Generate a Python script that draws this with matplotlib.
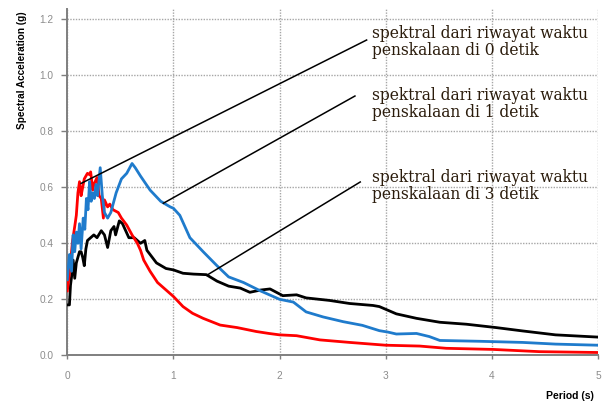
import matplotlib
matplotlib.use("Agg")
import matplotlib.pyplot as plt

# ---- data ----
period_red = [0, 0.01, 0.03, 0.05, 0.07, 0.085, 0.10, 0.115, 0.13, 0.145, 0.16, 0.19, 0.21, 0.22,
              0.24, 0.25, 0.28, 0.30, 0.32, 0.34, 0.35, 0.38, 0.40, 0.43, 0.48, 0.51, 0.56, 0.61,
              0.66, 0.69, 0.72, 0.78, 0.85, 0.94, 1.00, 1.09, 1.18, 1.28, 1.44, 1.6, 1.78, 1.9,
              2.0, 2.16, 2.38, 2.66, 3.0, 3.32, 3.57, 4.01, 4.45, 5.0]
sa_red = [0.23, 0.26, 0.33, 0.41, 0.46, 0.50, 0.58, 0.62, 0.57, 0.60, 0.63, 0.65, 0.645, 0.655,
          0.59, 0.61, 0.635, 0.57, 0.56, 0.49, 0.555, 0.53, 0.54, 0.52, 0.51, 0.49, 0.465, 0.43,
          0.40, 0.375, 0.34, 0.30, 0.26, 0.23, 0.21, 0.174, 0.15, 0.132, 0.108, 0.099, 0.085, 0.078,
          0.073, 0.07, 0.055, 0.046, 0.036, 0.033, 0.025, 0.021, 0.013, 0.01]

period_blue = [0, 0.02, 0.04, 0.055, 0.07, 0.085, 0.10, 0.115, 0.13, 0.15, 0.165, 0.18, 0.195,
               0.21, 0.225, 0.24, 0.255, 0.27, 0.285, 0.31, 0.33, 0.35, 0.38, 0.41, 0.46, 0.51,
               0.56, 0.61, 0.64, 0.69, 0.78, 0.88, 0.97, 1.0, 1.06, 1.155, 1.28, 1.41, 1.52, 1.66,
               1.82, 2.0, 2.13, 2.25, 2.41, 2.6, 2.78, 2.94, 3.02, 3.1, 3.29, 3.41, 3.51, 3.89,
               4.29, 4.6, 5.0]
sa_blue = [0.27, 0.36, 0.30, 0.43, 0.37, 0.44, 0.40, 0.47, 0.38, 0.49, 0.45, 0.56, 0.52, 0.62,
           0.55, 0.58, 0.56, 0.61, 0.57, 0.67, 0.57, 0.51, 0.49, 0.51, 0.58, 0.63, 0.65, 0.685,
           0.67, 0.64, 0.59, 0.55, 0.53, 0.525, 0.50, 0.42, 0.37, 0.32, 0.28, 0.26, 0.23, 0.20,
           0.19, 0.155, 0.137, 0.12, 0.107, 0.088, 0.083, 0.076, 0.078, 0.067, 0.053, 0.05,
           0.046, 0.040, 0.036]

period_black = [0, 0.02, 0.03, 0.04, 0.055, 0.07, 0.085, 0.10, 0.115, 0.13, 0.145, 0.16, 0.175,
                0.19, 0.22, 0.25, 0.28, 0.32, 0.35, 0.38, 0.41, 0.44, 0.455, 0.49, 0.52, 0.55,
                0.58, 0.63, 0.69, 0.73, 0.75, 0.84, 0.93, 1.0, 1.09, 1.19, 1.31, 1.41, 1.52, 1.63,
                1.72, 1.82, 1.91, 2.03, 2.16, 2.25, 2.47, 2.66, 2.88, 2.94, 3.1, 3.29, 3.51, 3.76,
                4.04, 4.29, 4.6, 5.0]
sa_black = [0.18, 0.18, 0.25, 0.28, 0.34, 0.275, 0.33, 0.35, 0.37, 0.37, 0.35, 0.32, 0.38, 0.41,
            0.42, 0.43, 0.42, 0.445, 0.43, 0.385, 0.445, 0.46, 0.43, 0.48, 0.47, 0.445, 0.42,
            0.42, 0.40, 0.41, 0.375, 0.33, 0.31, 0.305, 0.293, 0.29, 0.288, 0.265, 0.247, 0.24,
            0.225, 0.233, 0.237, 0.213, 0.216, 0.205, 0.196, 0.185, 0.178, 0.174, 0.148, 0.132,
            0.118, 0.111, 0.099, 0.087, 0.073, 0.065]

x_ticks = [0, 1, 2, 3, 4, 5]
x_tick_labels = ["0", "1", "2", "3", "4", "5"]
y_ticks = [0.0, 0.2, 0.4, 0.6, 0.8, 1.0, 1.2]
y_tick_labels = ["0.0", "0.2", "0.4", "0.6", "0.8", "1.0", "1.2"]

annot_texts = ["spektral dari riwayat waktu\npenskalaan di 0 detik",
               "spektral dari riwayat waktu\npenskalaan di 1 detik",
               "spektral dari riwayat waktu\npenskalaan di 3 detik"]
annot_start = [(0.13, 0.614), (0.905, 0.543), (1.315, 0.286)]
annot_end = [(2.82, 1.126), (2.71, 0.926), (2.76, 0.619)]

# ---- figure ----
fig = plt.figure(figsize=(6.10, 4.03), dpi=100)
ax = fig.add_axes([67.3 / 610, 1 - 355.3 / 403, (598 - 67.3) / 610, (355.3 - 9) / 403])
ax.set_xlim(0, 5)
ax.set_ylim(0, (355.3 - 9) / 280)

ax.grid(True, color="#a6a6a6", linestyle=(0, (1, 1)), linewidth=1.0)
ax.set_axisbelow(True)
for s in ["top", "right"]:
    ax.spines[s].set_visible(False)
for s in ["left", "bottom"]:
    ax.spines[s].set_color("#7f7f7f")
    ax.spines[s].set_linewidth(1.4)

ax.plot(period_black, sa_black, color="black", lw=2.0, zorder=3)
ax.plot(period_red, sa_red, color="#ff0000", lw=2.0, zorder=4)
ax.plot(period_blue, sa_blue, color="#1f7bcc", lw=2.0, zorder=5)

ax.set_xticks(x_ticks)
ax.set_xticklabels(x_tick_labels)
ax.set_yticks(y_ticks)
ax.set_yticklabels(y_tick_labels)
ax.tick_params(axis="both", colors="#7f7f7f", labelcolor="#8c8c8c", labelsize=7.3, length=4,
               width=1.0)
ax.tick_params(axis="x", pad=8, length=3)
ax.tick_params(axis="y", pad=6)
for lbl in ax.get_xticklabels() + ax.get_yticklabels():
    lbl.set_family("Liberation Sans")

fig.text(22 / 610, 1 - 70 / 403, "Spectral Acceleration (g)", rotation=90, ha="center",
         va="center", fontsize=7.2, fontweight="bold", family="Liberation Sans")
fig.text(570 / 610, 1 - 396 / 403, "Period (s)", ha="center", va="center", fontsize=7.5,
         fontweight="bold", family="Liberation Sans")

text_y = [42, 104, 186]
for t, (x0, y0), (x1, y1), ty in zip(annot_texts, annot_start, annot_end, text_y):
    ax.plot([x0, x1], [y0, y1], color="black", lw=1.1, zorder=6, clip_on=False)
    fig.text(372 / 610, 1 - ty / 403, t, ha="left", va="center", fontsize=11.2,
             family="DejaVu Serif", color="#2b1c0c", linespacing=1.0)

fig.savefig("out.png", dpi=100)
